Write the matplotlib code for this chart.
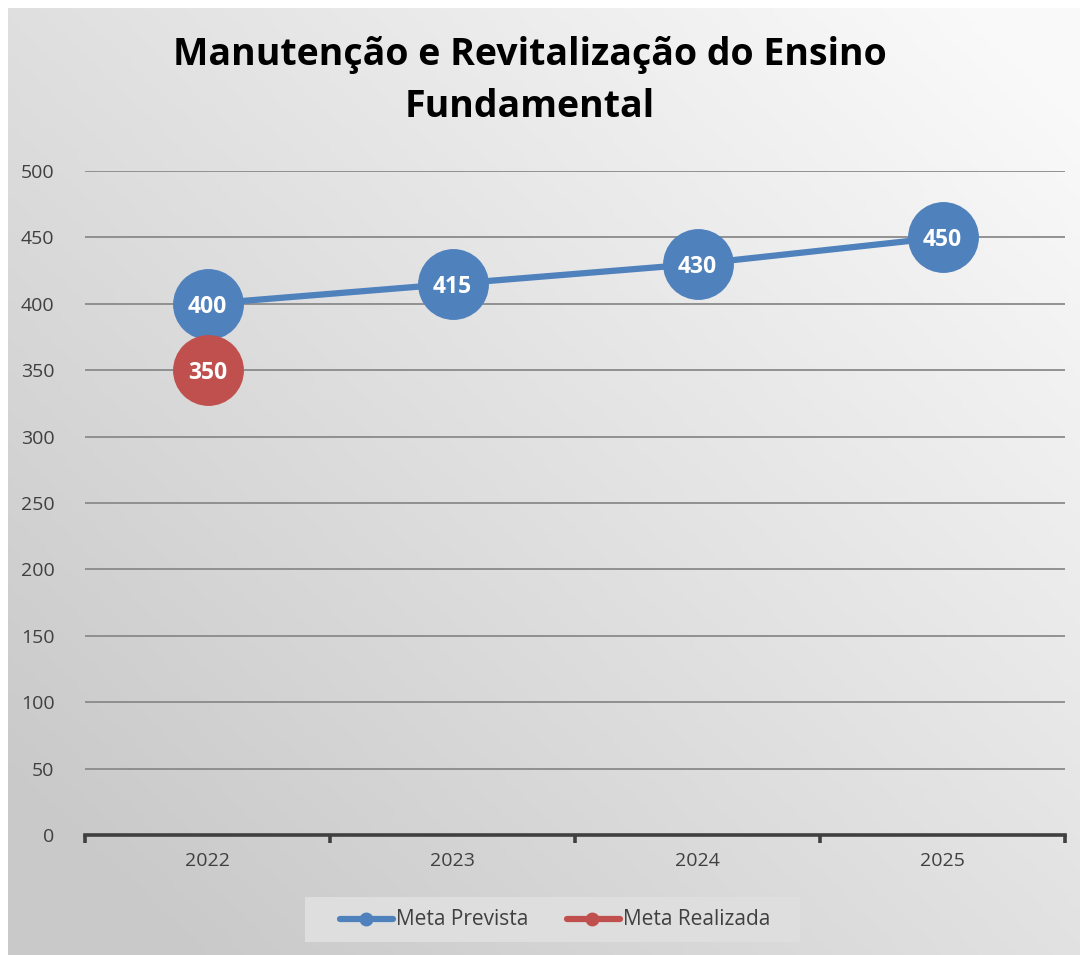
import matplotlib
matplotlib.use("Agg")
import matplotlib.pyplot as plt
import numpy as np

years = ["2022", "2023", "2024", "2025"]
meta_prevista = [400, 415, 430, 450]
meta_realizada = [350]
yticks = [0, 50, 100, 150, 200, 250, 300, 350, 400, 450, 500]
title = "Manutenção e Revitalização do Ensino\nFundamental"

W, H = 1083, 955
fig = plt.figure(figsize=(W/100, H/100), dpi=100)
fig.patch.set_facecolor("white")

# background gradient panel
bg = fig.add_axes([8/W, 0, 1 - 8/W - 3/W, 1 - 8/H])
xx, yy = np.meshgrid(np.linspace(0, 1, 200), np.linspace(0, 1, 200))
g = 0.79 + 0.19 * np.clip(0.6 * xx + 0.55 * yy - 0.1, 0, 1)
bg.imshow(np.dstack([g, g, g]), origin="lower", aspect="auto", extent=[0, 1, 0, 1])
bg.set_axis_off()
bg.set_zorder(0)

x0, x1 = 85, 1065
ytop, ybot = 171, 835
ax = fig.add_axes([x0/W, 1 - ybot/H, (x1 - x0)/W, (ybot - ytop)/H])
ax.set_zorder(1)
ax.patch.set_alpha(0)
x = np.arange(len(years))
ax.set_xlim(-0.5, len(years) - 0.5)
ax.set_ylim(0, 500)
ax.set_yticks(yticks)
ax.set_yticklabels([str(v) for v in yticks], fontsize=14, color="#404040", family="Open Sans")
ax.set_xticks(x)
ax.set_xticklabels(years, fontsize=14, color="#404040", family="Open Sans")
ax.tick_params(axis="y", length=0, pad=22)
ax.tick_params(axis="x", length=0, pad=12)
for v in yticks[1:]:
    ax.axhline(v, color="#8a8a8a", lw=1.3, zorder=1)
for s in ["top", "right", "left"]:
    ax.spines[s].set_visible(False)
ax.spines["bottom"].set_color("#404040")
ax.spines["bottom"].set_linewidth(2.6)
for b in np.arange(-0.5, len(years), 1.0):
    ax.plot([b, b], [0, -6], color="#404040", lw=2.6, clip_on=False, solid_capstyle="butt")

blue = "#4f81bd"
red = "#c0504d"
ax.plot(x, meta_prevista, color=blue, lw=4.5, marker="o", ms=50, zorder=3, solid_capstyle="round")
ax.plot(x[:len(meta_realizada)], meta_realizada, color=red, lw=4.5, marker="o", ms=50, zorder=3)
for xi, v in zip(x, meta_prevista):
    ax.text(xi, v, str(v), ha="center", va="center_baseline", color="white", fontsize=16.5,
            fontweight="bold", family="Open Sans", zorder=4)
for xi, v in zip(x, meta_realizada):
    ax.text(xi, v, str(v), ha="center", va="center_baseline", color="white", fontsize=16.5,
            fontweight="bold", family="Open Sans", zorder=4)

fig.text(530/W, 1 - 81/H, title, ha="center", va="center", fontsize=27, fontweight="bold",
         family="Open Sans", linespacing=1.5, color="black")

# legend
lg = fig.add_axes([305/W, 1 - 942/H, 495/W, 45/H])
lg.set_xlim(305, 800)
lg.set_ylim(942, 897)
lg.set_facecolor("#dedede")
for s in lg.spines.values():
    s.set_visible(False)
lg.set_xticks([])
lg.set_yticks([])
ym = 919
lg.plot([340, 393], [ym, ym], color=blue, lw=4.5, solid_capstyle="round")
lg.plot([366], [ym], "o", color=blue, ms=9)
lg.text(396, ym, "Meta Prevista", va="center", ha="left", fontsize=15,
        color="#404040", family="Open Sans")
lg.plot([567, 620], [ym, ym], color=red, lw=4.5, solid_capstyle="round")
lg.plot([592], [ym], "o", color=red, ms=9)
lg.text(623, ym, "Meta Realizada", va="center", ha="left", fontsize=15,
        color="#404040", family="Open Sans")

fig.savefig("out.png", dpi=100)
